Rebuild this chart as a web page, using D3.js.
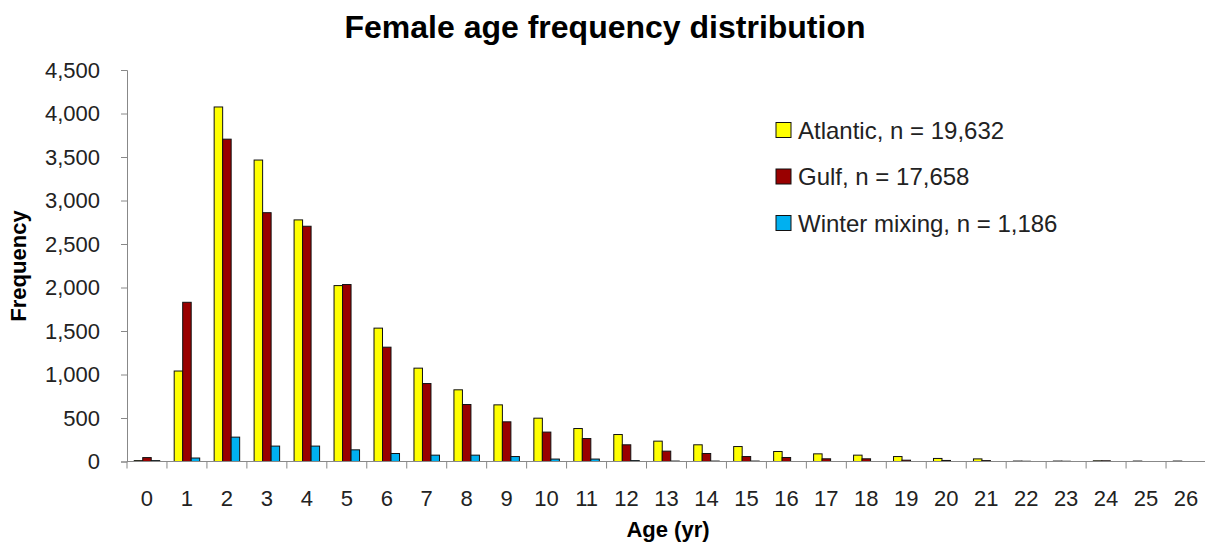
<!DOCTYPE html>
<html>
<head>
<meta charset="utf-8">
<script src="https://cdn.jsdelivr.net/npm/d3@7"></script>
<style>
  body { margin: 0; background: #fff; }
  svg { display: block; }
</style>
</head>
<body>
<svg id="chart"></svg>
<script>
// data
const ages = d3.range(0, 27).map(String);
const seriesNames = ['Atlantic, n = 19,632', 'Gulf, n = 17,658', 'Winter mixing, n = 1,186'];
const atlantic = [10, 1040, 4075, 3465, 2777, 2022, 1533, 1073, 824, 651, 498, 379, 310, 234, 192, 172, 115, 88, 73, 57, 35, 30, 5, 5, 8, 5, 5];
const gulf     = [45, 1830, 3705, 2860, 2704, 2034, 1314, 896, 655, 456, 338, 264, 192, 119, 92, 57, 46, 31, 31, 15, 12, 10, 3, 3, 8, 0, 0];
const winter   = [10, 40, 280, 177, 177, 134, 92, 73, 73, 57, 28, 28, 10, 5, 5, 5, 0, 0, 0, 0, 0, 0, 0, 0, 0, 0, 0];
const yTicks = [0, 500, 1000, 1500, 2000, 2500, 3000, 3500, 4000, 4500];

const colors = ['#ffff00', '#990000', '#00b0f0'];
const allSeries = [atlantic, gulf, winter];

// drawing constants
const W = 1205, H = 545;
const PLOT_LEFT = 127, PLOT_RIGHT = 1206;
const PLOT_TOP = 70, PLOT_BOTTOM = 461.5;
const FONT = '"Liberation Sans", Arial, sans-serif';

const svg = d3.select('#chart')
  .attr('width', W)
  .attr('height', H)
  .attr('font-family', FONT);

const x = d3.scaleBand().domain(ages).range([PLOT_LEFT, PLOT_RIGHT]).paddingInner(0).paddingOuter(0);
const inner = d3.scaleBand().domain(d3.range(3)).range([0, x.bandwidth()]).paddingOuter(0.85).paddingInner(0);
const y = d3.scaleLinear().domain([0, 4500]).range([PLOT_BOTTOM, PLOT_TOP]);

// title
svg.append('text')
  .attr('x', 605).attr('y', 38)
  .attr('text-anchor', 'middle')
  .attr('font-size', 32).attr('font-weight', 'bold')
  .text('Female age frequency distribution');

// bars
allSeries.forEach((vals, s) => {
  svg.append('g')
    .selectAll('rect')
    .data(vals)
    .join('rect')
    .attr('x', (d, i) => x(ages[i]) + inner(s))
    .attr('width', inner.bandwidth())
    .attr('y', d => y(d))
    .attr('height', d => PLOT_BOTTOM - y(d))
    .attr('fill', colors[s])
    .attr('stroke', '#111')
    .attr('stroke-width', 1);
});

// y axis
const yAxis = svg.append('g')
  .attr('transform', `translate(${PLOT_LEFT},0)`)
  .call(d3.axisLeft(y).tickValues(yTicks).tickFormat(d3.format(',')).tickSize(6).tickPadding(21));
yAxis.select('.domain').attr('stroke', '#888');
yAxis.selectAll('.tick line').attr('stroke', '#888');
yAxis.selectAll('text').attr('font-size', 22).attr('font-family', FONT).attr('fill', '#222');

// x axis: ticks at band boundaries
const xg = svg.append('g').attr('transform', `translate(0,${PLOT_BOTTOM})`);
xg.append('line')
  .attr('x1', PLOT_LEFT).attr('x2', PLOT_RIGHT)
  .attr('stroke', '#888');
xg.selectAll('line.tk')
  .data(d3.range(ages.length + 1))
  .join('line')
  .attr('class', 'tk')
  .attr('x1', i => PLOT_LEFT + i * x.bandwidth())
  .attr('x2', i => PLOT_LEFT + i * x.bandwidth())
  .attr('y1', 0).attr('y2', 7)
  .attr('stroke', '#888');
xg.selectAll('text')
  .data(ages)
  .join('text')
  .attr('x', d => x(d) + x.bandwidth() / 2)
  .attr('y', 44)
  .attr('text-anchor', 'middle')
  .attr('font-size', 22)
  .attr('fill', '#222')
  .text(d => d);

// axis titles
svg.append('text')
  .attr('x', 668).attr('y', 537)
  .attr('text-anchor', 'middle')
  .attr('font-size', 22).attr('font-weight', 'bold')
  .text('Age (yr)');

svg.append('text')
  .attr('transform', 'translate(26,266) rotate(-90)')
  .attr('text-anchor', 'middle')
  .attr('font-size', 22).attr('font-weight', 'bold')
  .text('Frequency');

// legend
const legend = svg.append('g').attr('transform', 'translate(776,130)');
seriesNames.forEach((name, i) => {
  const row = legend.append('g').attr('transform', `translate(0,${i * 46.5})`);
  row.append('rect')
    .attr('x', 0).attr('y', -7.5)
    .attr('width', 15).attr('height', 15)
    .attr('fill', colors[i])
    .attr('stroke', '#111');
  row.append('text')
    .attr('x', 22).attr('y', 8.5)
    .attr('font-size', 24)
    .attr('fill', '#222')
    .text(name);
});
</script>
</body>
</html>
